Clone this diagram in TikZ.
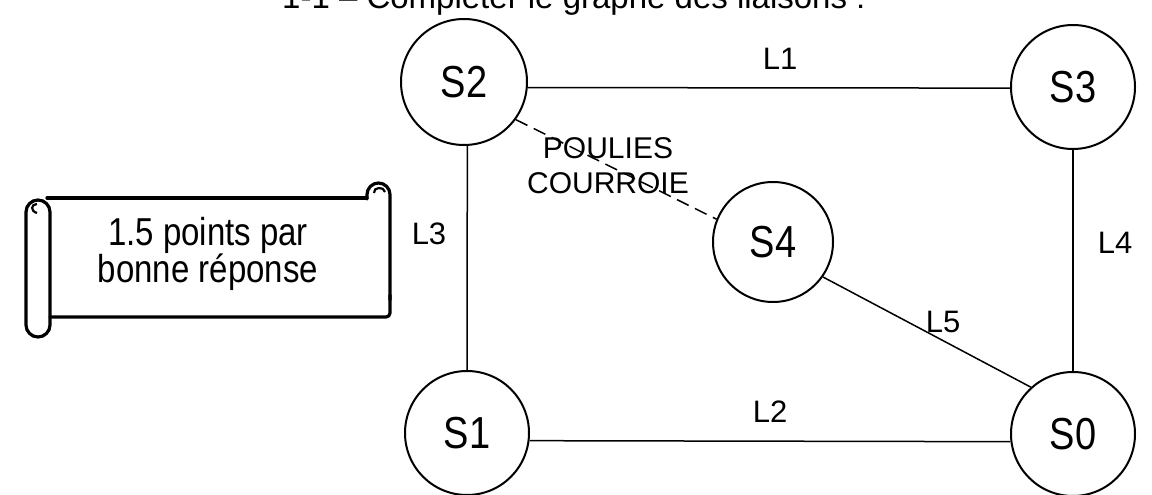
\documentclass[tikz,border=0pt]{standalone}
\usepackage{fontspec}
\usepackage{graphicx}
\setmainfont{Liberation Sans}
\newcommand{\tallt}[1]{\scalebox{1}[1.18]{#1}}
\begin{document}
\begin{tikzpicture}[x=1pt,y=-1pt,
  sys/.style={circle,draw,line width=2pt,minimum size=124pt,inner sep=0pt,font=\fontsize{38}{40}\selectfont},
  lab/.style={inner sep=0pt,font=\fontsize{31}{34}\selectfont},
  link/.style={line width=1.5pt},
  scrollline/.style={line width=3.2pt,line join=round,line cap=round}]
\useasboundingbox (0,0) rectangle (1152,495);
\node[anchor=base west,inner sep=0pt,font=\fontsize{33}{36}\selectfont] (title) at (282,9) {1-1 – Compléter le graphe des liaisons :};
% systems
\node[sys,minimum size=126pt] (S2) at (464,82) {\tallt{S2}};
\node[sys] (S3) at (1073,87) {\tallt{S3}};
\node[sys] (S1) at (467,433) {\tallt{S1}};
\node[sys] (S0) at (1073,434) {\tallt{S0}};
\node[sys,minimum size=120pt] (S4) at (773,242) {\tallt{S4}};
% links
\draw[link] (S2.-5) -- (S3.181);
\draw[link] (S2.-87) -- (S1.90);
\draw[link] (S3) -- (S0);
\draw[link] (S1.-7) -- (S0.187);
\draw[link] (S4.-35) -- (S0.132);
\draw[link,dash pattern=on 13pt off 7pt] (S2.-36) -- (S4.158);
% labels
\node[lab] (l1) at (780,59) {L1};
\node[lab] (l3) at (429,234) {L3};
\node[lab] (l4) at (1115,243) {L4};
\node[lab] (l2) at (770,412) {L2};
\node[lab] (l5) at (943,322) {L5};
\node[lab,align=center,font=\fontsize{30}{35}\selectfont] (pc) at (608,166) {POULIES\\COURROIE};
% scroll
\draw[scrollline] (47,198) -- (367,198);
\draw[scrollline,rounded corners=11.5pt] (367,199) |- (390,183) -- (390,300);
\draw[scrollline,rounded corners=4pt] (390,295) -- (390,317) -- (50,317);
\draw[scrollline,rounded corners=12pt] (26,200) rectangle (50,337);
\draw[line width=2.2pt] (37,213) .. controls (30,211) and (31,204) .. (37,204);
\draw[line width=2.2pt] (374,193) .. controls (373,187) and (384,186) .. (385,192);
\node[align=center,inner sep=0pt,font=\fontsize{33}{36}\selectfont] (note) at (208,254) {\tallt{1.5 points par}\\\tallt{bonne réponse}};
\end{tikzpicture}
\end{document}
